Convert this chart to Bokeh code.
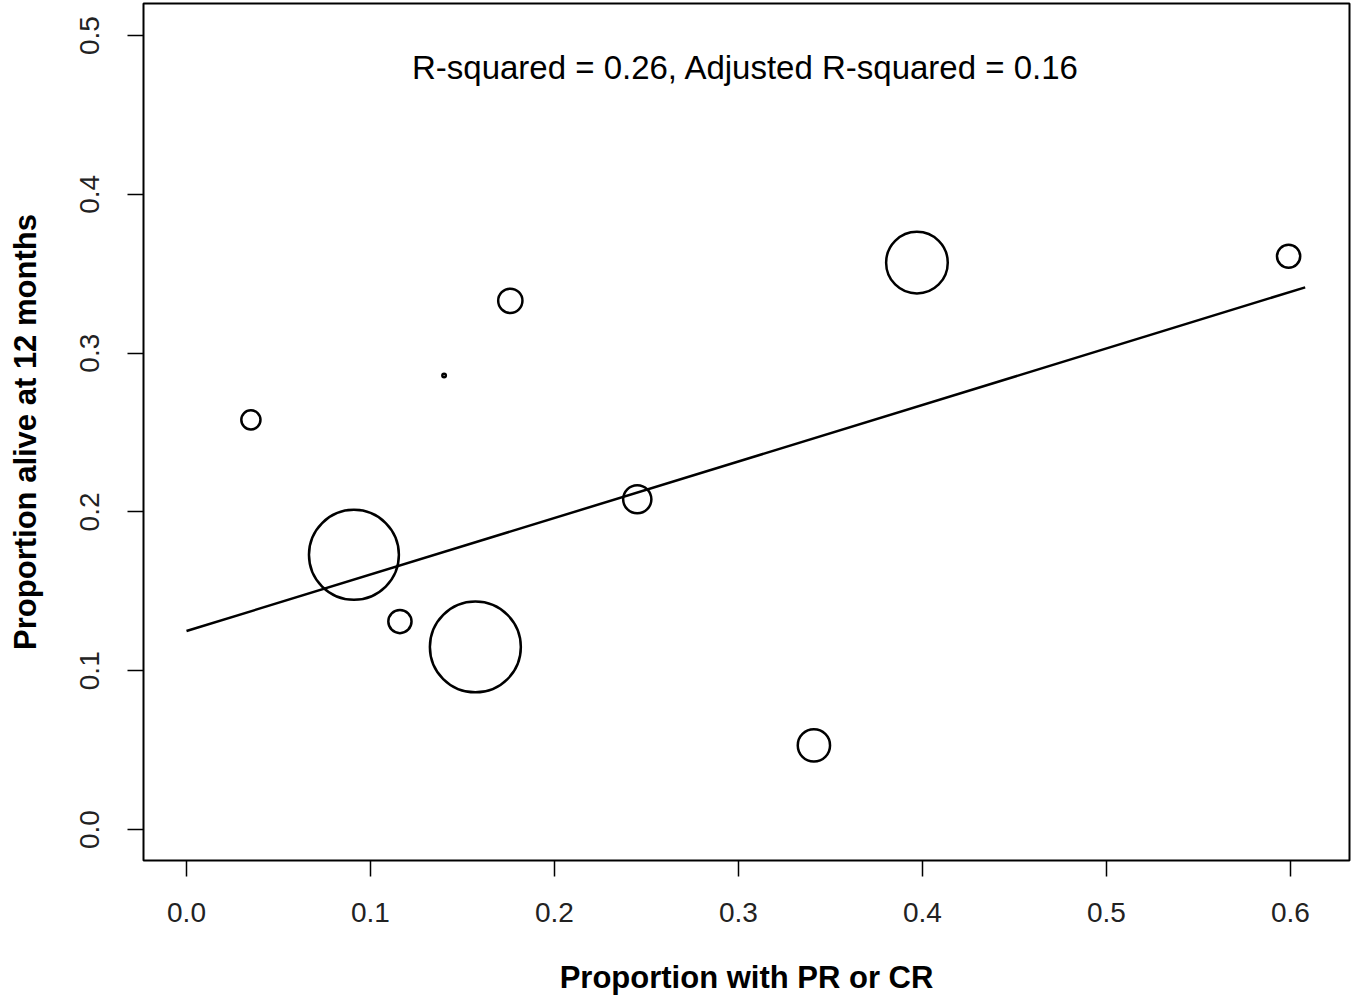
from bokeh.plotting import figure
from bokeh.models import FixedTicker, PrintfTickFormatter, Range1d, ColumnDataSource
from bokeh.core.properties import value
from bokeh.embed import file_html
from bokeh.resources import INLINE
import numpy as np

# Data
prop_response = [0.035, 0.091, 0.116, 0.140, 0.157, 0.176, 0.245, 0.341, 0.397, 0.599]
prop_alive12 = [0.258, 0.173, 0.131, 0.286, 0.115, 0.333, 0.208, 0.053, 0.357, 0.361]
n_patients = [30, 660, 44, 1, 675, 48, 65, 85, 310, 44]

fit_intercept = 0.125
fit_slope = 0.356
fit_x = [0.0, 0.608]

x_ticks = [0.0, 0.1, 0.2, 0.3, 0.4, 0.5, 0.6]
y_ticks = [0.0, 0.1, 0.2, 0.3, 0.4, 0.5]

annotation = "R-squared = 0.26, Adjusted R-squared = 0.16"
x_title = "Proportion with PR or CR"
y_title = "Proportion alive at 12 months"

FONT = "Liberation Sans"

p = figure(width=1356, height=997, output_backend="svg", toolbar_location=None,
           x_range=Range1d(-0.02337, 0.6321), y_range=Range1d(-0.0195, 0.5202),
           min_border_left=143, min_border_right=7, min_border_top=3, min_border_bottom=137)
p.background_fill_color = "white"
p.border_fill_color = "white"
p.outline_line_color = "black"
p.outline_line_width = 2
p.grid.visible = False

src = ColumnDataSource(dict(x=prop_response, y=prop_alive12,
                            size=[3.5 * np.sqrt(n) for n in n_patients]))
p.scatter("x", "y", size="size", source=src, fill_color=None,
          line_color="black", line_width=2.5)

fit_y = [fit_intercept + fit_slope * xv for xv in fit_x]
p.line(fit_x, fit_y, line_color="black", line_width=2.5)

p.text(x=[(x_ticks[0] + fit_x[1]) / 2], y=[0.48], text=[annotation],
       text_font=value(FONT), text_font_size="33px", text_align="center",
       text_baseline="middle", text_color="black")

for ax in (p.xaxis[0], p.yaxis[0]):
    ax.axis_line_color = None
    ax.major_tick_line_color = "black"
    ax.major_tick_line_width = 1.5
    ax.major_tick_in = 0
    ax.major_tick_out = 16
    ax.minor_tick_line_color = None
    ax.major_label_text_font = FONT
    ax.major_label_text_font_size = "28px"
    ax.major_label_text_color = "#222222"
    ax.axis_label_text_font = FONT
    ax.axis_label_text_font_size = "31px"
    ax.axis_label_text_font_style = "bold"
    ax.axis_label_text_color = "black"
    ax.formatter = PrintfTickFormatter(format="%.1f")

p.xaxis.ticker = FixedTicker(ticks=x_ticks)
p.yaxis.ticker = FixedTicker(ticks=y_ticks)
p.xaxis.axis_label = x_title
p.yaxis.axis_label = y_title
p.xaxis.major_label_standoff = 26
p.xaxis.axis_label_standoff = 35
p.yaxis.major_label_standoff = 28
p.yaxis.major_label_orientation = "vertical"
p.yaxis.axis_label_standoff = 35

open("out.html", "w").write(file_html(p, INLINE))
